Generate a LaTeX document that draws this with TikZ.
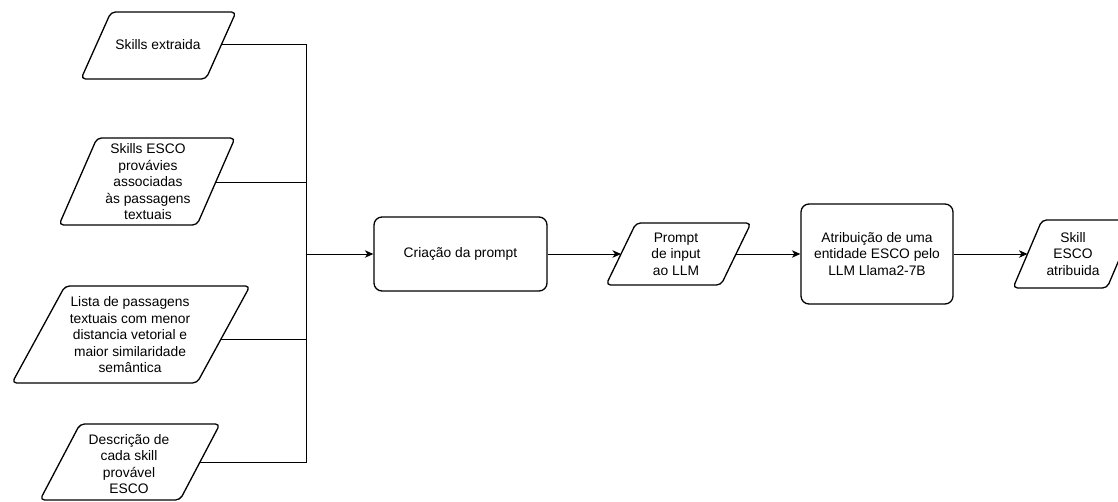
\documentclass[tikz,border=0pt]{standalone}
\usepackage{fontspec}
\setmainfont{Liberation Sans}
\usetikzlibrary{arrows.meta}

\tikzset{
  shp/.style={draw=black, line width=1.3pt, rounded corners=4.5pt, line join=round, fill=white},
  box/.style={shp, rectangle, rounded corners=8pt, align=center, inner sep=2pt,
              font=\fontsize{13.8}{16.5}\selectfont},
  lbl/.style={align=center, inner sep=0pt, font=\fontsize{13.8}{16.5}\selectfont},
  conn/.style={draw=black, line width=0.9pt},
  arr/.style={conn, -{Stealth[length=8.5pt, width=7.5pt, inset=2.5pt]}}
}

\begin{document}
\begin{tikzpicture}[x=1pt, y=-1pt]
  \fill[white] (0,0) rectangle (1118,501);
  \useasboundingbox (0,0) rectangle (1118,501);

  % input parallelograms on the left
  \draw[shp] (111,12) -- (236,12) -- (206,79) -- (81,79) -- cycle;
  \node[lbl] (in1) at (158,45) {Skills extraida};

  \draw[shp] (97,138) -- (235,138) -- (197,225) -- (59,225) -- cycle;
  \node[lbl] (in2) at (148,182) {Skills ESCO\\provávies\\associadas\\às passagens\\textuais};

  \draw[shp] (65,286) -- (250,286) -- (197,383) -- (12,383) -- cycle;
  \node[lbl] (in3) at (130,335) {Lista de passagens\\textuais com menor\\distancia vetorial e\\maior similaridade\\semântica};

  \draw[shp] (80,424) -- (220,424) -- (180,500) -- (40,500) -- cycle;
  \node[lbl] (in4) at (129,464) {Descrição de\\cada skill\\provável\\ESCO};

  % exit points on the right edges of the inputs, and the junction of the bus
  \coordinate (in1-o) at (221.7,44);
  \coordinate (in2-o) at (215.8,182);
  \coordinate (in3-o) at (221,339);
  \coordinate (in4-o) at (200,462);
  \coordinate (bus) at (306,254);

  % processing chain
  \node[box, minimum width=173pt, minimum height=74pt] (crea) at (460.5,254) {Criação da prompt};

  \draw[shp] (636,223) -- (751,223) -- (721,285) -- (606,285) -- cycle;
  \node[lbl] (prm) at (676,254) {Prompt\\de input\\ao LLM};
  \coordinate (prm-i) at (621,254);
  \coordinate (prm-o) at (736,254);

  \node[box, minimum width=152pt, minimum height=100pt] (attr) at (877,254)
    {Atribuição de uma\\entidade ESCO pelo\\LLM Llama2-7B};

  \draw[shp] (1042,220) -- (1136,220) -- (1107,288) -- (1013,288) -- cycle;
  \node[lbl] (out) at (1073,254) {Skill\\ESCO\\atribuida};
  \coordinate (out-i) at (1027.5,254);

  % connectors
  \draw[conn] (in1-o) -| (bus);
  \draw[conn] (in2-o) -| (bus);
  \draw[conn] (in3-o) -| (bus);
  \draw[conn] (in4-o) -| (bus);
  \draw[arr] (bus) -- (crea.west);
  \draw[arr] (crea.east) -- (prm-i);
  \draw[arr] (prm-o) -- (attr.west);
  \draw[arr] (attr.east) -- (out-i);
\end{tikzpicture}
\end{document}
